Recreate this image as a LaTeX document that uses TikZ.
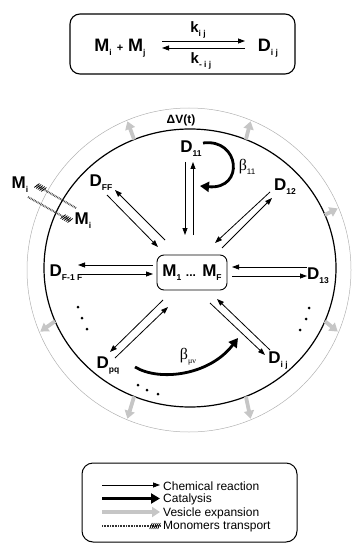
\documentclass[tikz,border=0pt]{standalone}
\usepackage{fontspec}
\setmainfont{Liberation Sans}
\newfontfamily\grk{Liberation Serif}
\usetikzlibrary{arrows.meta,decorations.markings,calc}
\newcommand\mysub[1]{\raisebox{-0.45ex}{\fontsize{8.5}{8.5}\selectfont #1}}
\newcommand\grsub[1]{\raisebox{-0.6ex}{\fontsize{8}{8}\selectfont #1}}
\tikzset{
  lab/.style={font=\fontsize{17}{17}\selectfont\bfseries, inner sep=0pt},
  tlab/.style={font=\fontsize{18}{18}\selectfont\bfseries, inner sep=0pt},
  klab/.style={font=\fontsize{15}{15}\selectfont\bfseries, inner sep=0pt},
  glab/.style={font=\fontsize{16}{16}\selectfont\grk, inner sep=0pt},
  leg/.style={font=\fontsize{12}{12}\selectfont, inner sep=0pt, anchor=west},
  rxn/.style={line width=0.8pt, -{Triangle[length=7pt,width=5pt]}},
  cat/.style={line width=2.8pt, -{Triangle[length=9pt,width=10pt]}},
  ves/.style={draw=gray!45, line width=3.8pt, -{Triangle[length=8pt,width=10pt,fill=gray!45]}},
  hatchhead/.style={postaction={decorate}, decoration={markings, mark=at position 1 with {
      \foreach \xx in {-1,-3,-5,-7,-9}{
        \draw[line width=0.75pt, solid, black] (\xx pt-1.3pt,-3pt) -- (\xx pt+1.3pt,3pt);}}}},
  trans/.style={draw=black!75, line width=2pt, dash pattern=on 0.7pt off 0.9pt, hatchhead},
  translegend/.style={draw=black!80, line width=1.6pt, dash pattern=on 0.7pt off 0.9pt, hatchhead},
}
\begin{document}
\begin{tikzpicture}[x=1pt,y=-1pt]
\useasboundingbox (0,0) rectangle (351,545);

% ---------- top reaction box ----------
\draw[line width=1.1pt, rounded corners=10pt] (70,14) rectangle (295,74);
\node[tlab] (mm) at (120,48) {M\mysub{i} {\fontsize{11}{11}\selectfont +} M\mysub{j}};
\node[tlab] (dtop) at (268,48) {D\mysub{i j}};
\node[klab] (kf) at (198,30) {k\mysub{i j}};
\node[klab] (kb) at (201,61) {k\mysub{- i j}};
\coordinate (af1) at (162,41); \coordinate (af2) at (245,41);
\coordinate (ab1) at (245,48); \coordinate (ab2) at (162,48);
\draw[rxn] (af1) -- (af2);
\draw[rxn] (ab1) -- (ab2);

% ---------- vesicle ----------
\coordinate (c) at (190,268);
\coordinate (co) at (189,270);
\draw[gray!60, line width=0.5pt] (co) ellipse [x radius=162, y radius=162];
\draw[line width=1.2pt] (c) ellipse [x radius=146, y radius=139];
\foreach \a in {22.5,67.5,112.5,-22.5,-67.5,-112.5,-157.5}
  \draw[ves] ($(c)+(-\a:146 and 139)$) -- ($(co)+(-\a:161)$);
\node[font=\fontsize{12}{12}\selectfont\bfseries, inner sep=0pt] (dv) at (181,120) {ΔV(t)};

% ---------- central node ----------
\draw[line width=0.9pt, rounded corners=7pt] (157,255) rectangle (227,290);
\node[lab] (M) at (192,272.5) {M\mysub{1} {\fontsize{12}{12}\selectfont ...} M\mysub{F}};

% ---------- dimers ----------
\node[lab] (d11) at (191,149) {D\mysub{11}};
\node[lab] (d12) at (285,187) {D\mysub{12}};
\node[lab] (dff) at (101,183) {D\mysub{FF}};
\node[lab] (df1) at (66,273) {D\mysub{F-1 F}};
\node[lab] (d13) at (318,276) {D\mysub{13}};
\node[lab] (dpq) at (108,366) {D\mysub{pq}};
\node[lab] (dij) at (278,361) {D\mysub{i j}};
\node[glab] (b11) at (247,167) {β\grsub{\fontspec{Liberation Sans}11}};
\node[glab] (bmn) at (188,357) {β\grsub{μν}};

% reaction arrows (pairs)
\coordinate (p1) at (185,162); \coordinate (p2) at (185,235);
\coordinate (p3) at (193,235); \coordinate (p4) at (193,162);
\draw[rxn] (p1) -- (p2); \draw[rxn] (p3) -- (p4);

\coordinate (q1) at (270,192); \coordinate (q2) at (215,243);
\coordinate (q3) at (222,248); \coordinate (q4) at (272,198);
\draw[rxn] (q1) -- (q2); \draw[rxn] (q3) -- (q4);

\coordinate (r1) at (165,240); \coordinate (r2) at (115,190);
\coordinate (r3) at (107,195); \coordinate (r4) at (158,247);
\draw[rxn] (r1) -- (r2); \draw[rxn] (r3) -- (r4);

\coordinate (s1) at (153,265); \coordinate (s2) at (78,265);
\coordinate (s3) at (78,274); \coordinate (s4) at (153,274);
\draw[rxn] (s1) -- (s2); \draw[rxn] (s3) -- (s4);

\coordinate (u1) at (307,267); \coordinate (u2) at (232,267);
\coordinate (u3) at (232,276); \coordinate (u4) at (307,276);
\draw[rxn] (u1) -- (u2); \draw[rxn] (u3) -- (u4);

\coordinate (v1) at (163,300); \coordinate (v2) at (110,352);
\coordinate (v3) at (115,358); \coordinate (v4) at (168,307);
\draw[rxn] (v1) -- (v2); \draw[rxn] (v3) -- (v4);

\coordinate (w1) at (210,303); \coordinate (w2) at (265,355);
\coordinate (w3) at (270,350); \coordinate (w4) at (217,299);
\draw[rxn] (w1) -- (w2); \draw[rxn] (w3) -- (w4);

% catalysis
\coordinate (k1) at (203,143); \coordinate (k2) at (200,186);
\draw[cat] (k1) .. controls (240,138) and (245,190) .. (k2);
\coordinate (k3) at (135,367); \coordinate (k4) at (238,338);
\draw[cat] (k3) .. controls (160,382) and (210,375) .. (k4);

% dots
\foreach \p in {(78,307),(82,318),(87,329),(138,385),(147,390),(158,394),(309,308),(306,319),(300,330)}
  \fill \p circle (1.5);

% transport
\node[lab] (mo) at (20,185) {M\mysub{i}};
\node[lab] (mi) at (83,221) {M\mysub{i}};
\coordinate (t1) at (76,208); \coordinate (t2) at (36,185);
\coordinate (t3) at (28,197); \coordinate (t4) at (71,221);
\path[trans] (t1) -- (t2);
\path[trans] (t3) -- (t4);

% ---------- legend ----------
\draw[line width=1pt, rounded corners=11pt] (82,463) rectangle (297,542);
\coordinate (l1a) at (102,485); \coordinate (l1b) at (160,485);
\coordinate (l2a) at (102,498.5); \coordinate (l2b) at (160,498.5);
\coordinate (l3a) at (102,512); \coordinate (l3b) at (160,512);
\coordinate (l4a) at (102,526); \coordinate (l4b) at (160,526);
\draw[rxn] (l1a) -- (l1b);
\draw[cat] (l2a) -- (l2b);
\draw[ves] (l3a) -- (l3b);
\path[translegend] (l4a) -- (l4b);
\node[leg] (t1l) at (163,486) {Chemical reaction};
\node[leg] (t2l) at (163,499.5) {Catalysis};
\node[leg] (t3l) at (163,513) {Vesicle expansion};
\node[leg] (t4l) at (163,527) {Monomers transport};
\end{tikzpicture}
\end{document}
